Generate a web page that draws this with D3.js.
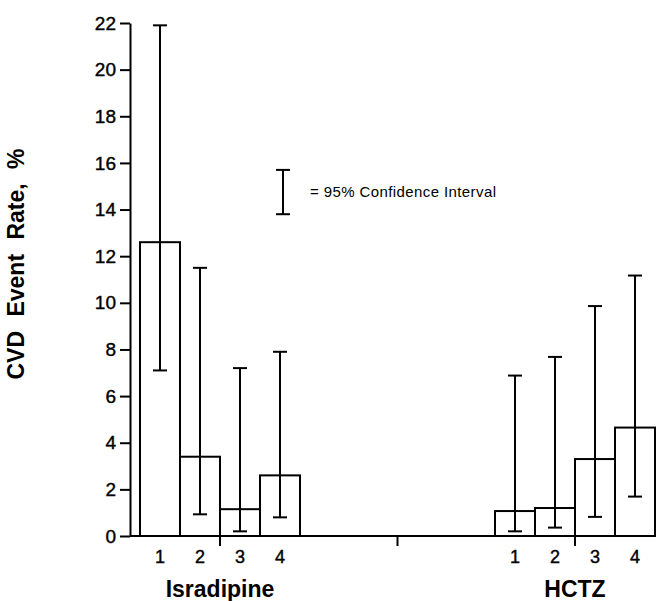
<!DOCTYPE html>
<html>
<head>
<meta charset="utf-8">
<script src="https://cdn.jsdelivr.net/npm/d3@7"></script>
<style>
  body { margin: 0; background: #fff; }
  svg { display: block; font-family: "Liberation Sans", Arial, Helvetica, sans-serif; }
  .axis path, .axis line { stroke: #000; stroke-width: 2; }
  .axis text { font-size: 19px; fill: #000; stroke: #000; stroke-width: 0.4px; }
</style>
</head>
<body>
<div id="chart"></div>
<script>
// data
var groups = ["Isradipine", "HCTZ"];
var quartiles = ["1", "2", "3", "4"];
var rates = [
    [12.6, 3.4, 1.15, 2.6],   // Isradipine
    [1.07, 1.2, 3.3, 4.65]    // HCTZ
];
var ciLow = [
    [7.1, 0.93, 0.2, 0.8],
    [0.2, 0.36, 0.82, 1.69]
];
var ciHigh = [
    [21.9, 11.5, 7.2, 7.9],
    [6.88, 7.68, 9.86, 11.17]
];
var yTicks = [0, 2, 4, 6, 8, 10, 12, 14, 16, 18, 20, 22];
var legendCI = [13.8, 15.7];

var width = 659, height = 601;
var axisX = 130;
var capW = 14;

var svg = d3.select("#chart").append("svg")
    .attr("width", width)
    .attr("height", height);

var y = d3.scaleLinear().domain([0, 22]).range([536, 23]);

var x0 = d3.scaleBand().domain(groups).range([140, 655])
    .paddingInner(0.5493).paddingOuter(0);
var x1 = d3.scaleBand().domain(quartiles).range([0, x0.bandwidth()]);

// flatten for drawing
var rows = [];
groups.forEach(function(g, gi) {
    quartiles.forEach(function(q, qi) {
        rows.push({ group: g, q: q, rate: rates[gi][qi], lo: ciLow[gi][qi], hi: ciHigh[gi][qi] });
    });
});

// y axis
var yAxis = d3.axisLeft(y).tickValues(yTicks).tickSize(10).tickSizeOuter(0).tickPadding(4);
svg.append("g")
    .attr("class", "axis")
    .attr("transform", "translate(" + axisX + ",0)")
    .call(yAxis);

// bars
svg.selectAll("rect.bar")
    .data(rows)
    .enter().append("rect")
    .attr("class", "bar")
    .attr("x", function(d) { return x0(d.group) + x1(d.q); })
    .attr("width", x1.bandwidth())
    .attr("y", function(d) { return y(d.rate); })
    .attr("height", function(d) { return y(0) - y(d.rate); })
    .attr("fill", "#fff")
    .attr("stroke", "#000")
    .attr("stroke-width", 2);

// error bars
var eb = svg.selectAll("g.err")
    .data(rows)
    .enter().append("g")
    .attr("class", "err")
    .attr("stroke", "#000")
    .attr("stroke-width", 2);

function cx(d) { return x0(d.group) + x1(d.q) + x1.bandwidth() / 2; }

eb.append("line")
    .attr("x1", cx).attr("x2", cx)
    .attr("y1", function(d) { return y(d.lo); })
    .attr("y2", function(d) { return y(d.hi); });
eb.append("line")
    .attr("x1", function(d) { return cx(d) - capW / 2; })
    .attr("x2", function(d) { return cx(d) + capW / 2; })
    .attr("y1", function(d) { return y(d.hi); })
    .attr("y2", function(d) { return y(d.hi); });
eb.append("line")
    .attr("x1", function(d) { return cx(d) - capW / 2; })
    .attr("x2", function(d) { return cx(d) + capW / 2; })
    .attr("y1", function(d) { return y(d.lo); })
    .attr("y2", function(d) { return y(d.lo); });

// x axis baseline + ticks
var gx = svg.append("g").attr("class", "axis");
gx.append("line")
    .attr("x1", axisX).attr("x2", x0.range()[1])
    .attr("y1", y(0)).attr("y2", y(0));

var centers = groups.map(function(g) { return x0(g) + x0.bandwidth() / 2; });
var xTicks = [centers[0], (centers[0] + centers[1]) / 2, centers[1]];
gx.selectAll("line.tick")
    .data(xTicks)
    .enter().append("line")
    .attr("class", "tick")
    .attr("x1", function(d) { return d; }).attr("x2", function(d) { return d; })
    .attr("y1", y(0)).attr("y2", y(0) + 10);

// quartile labels
svg.selectAll("text.q")
    .data(rows)
    .enter().append("text")
    .attr("class", "q")
    .attr("x", cx)
    .attr("y", y(0) + 27)
    .attr("text-anchor", "middle")
    .style("font-size", "18px")
    .style("stroke", "#000")
    .style("stroke-width", "0.4px")
    .text(function(d) { return d.q; });

// group labels
svg.selectAll("text.grp")
    .data(groups)
    .enter().append("text")
    .attr("class", "grp")
    .attr("x", function(d) { return x0(d) + x0.bandwidth() / 2; })
    .attr("y", 597)
    .attr("text-anchor", "middle")
    .style("font-size", "23px")
    .style("font-weight", "bold")
    .text(function(d) { return d; });

// y axis title
svg.append("text")
    .attr("transform", "translate(24," + 264 + ") rotate(-90)")
    .attr("text-anchor", "middle")
    .style("font-size", "23px")
    .style("font-weight", "bold")
    .style("word-spacing", "8px")
    .text("CVD Event Rate, %");

// legend
var lg = svg.append("g").attr("stroke", "#000").attr("stroke-width", 2);
var lx = 283;
lg.append("line").attr("x1", lx).attr("x2", lx).attr("y1", y(legendCI[0])).attr("y2", y(legendCI[1]));
lg.append("line").attr("x1", lx - capW / 2).attr("x2", lx + capW / 2).attr("y1", y(legendCI[0])).attr("y2", y(legendCI[0]));
lg.append("line").attr("x1", lx - capW / 2).attr("x2", lx + capW / 2).attr("y1", y(legendCI[1])).attr("y2", y(legendCI[1]));
svg.append("text")
    .attr("x", 310)
    .attr("y", (y(legendCI[0]) + y(legendCI[1])) / 2 + 5)
    .style("font-size", "15px")
    .style("letter-spacing", "0.4px")
    .text("= 95% Confidence Interval");
</script>
</body>
</html>
